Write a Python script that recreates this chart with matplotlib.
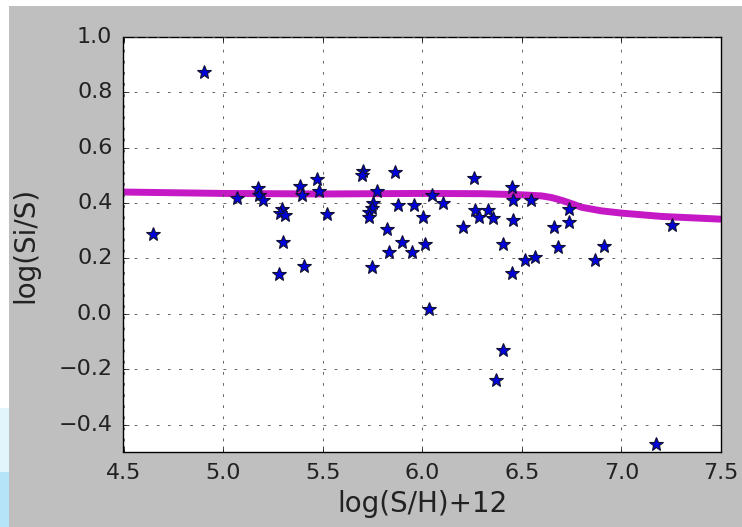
import numpy as np
import matplotlib.pyplot as plt
from matplotlib.patches import Rectangle

# data
sh = [4.904, 4.648, 5.068, 5.174, 5.18, 5.202, 5.294, 5.286, 5.311, 5.299,
      5.282, 5.406, 5.386, 5.395, 5.473, 5.483, 5.523, 5.701, 5.696, 5.774,
      5.754, 5.746, 5.734, 5.734, 5.863, 5.880, 5.958, 5.821, 5.897, 5.833,
      5.947, 5.746, 6.005, 6.013, 6.047, 6.102, 6.206, 6.261, 6.265, 6.286,
      6.331, 6.353, 6.407, 6.449, 6.457, 6.457, 6.449, 6.544, 6.738, 6.738,
      6.663, 6.683, 6.516, 6.566, 6.867, 6.914, 7.252, 6.035, 6.404, 6.370,
      7.173]
sis = [0.874, 0.288, 0.420, 0.455, 0.430, 0.413, 0.377, 0.363, 0.357, 0.258,
       0.143, 0.173, 0.461, 0.429, 0.486, 0.445, 0.360, 0.517, 0.501, 0.445,
       0.399, 0.381, 0.369, 0.351, 0.513, 0.393, 0.393, 0.306, 0.260, 0.222,
       0.222, 0.168, 0.351, 0.254, 0.429, 0.401, 0.314, 0.489, 0.375, 0.351,
       0.375, 0.345, 0.252, 0.457, 0.411, 0.339, 0.148, 0.411, 0.378, 0.333,
       0.312, 0.240, 0.194, 0.204, 0.194, 0.246, 0.320, 0.016, -0.131, -0.240,
       -0.471]

# model curve
mod_x = [4.5, 5.0, 5.5, 6.0, 6.3, 6.5, 6.6, 6.65, 6.7, 6.75, 6.8, 6.9, 7.0, 7.2, 7.5]
mod_y = [0.440, 0.435, 0.433, 0.435, 0.434, 0.430, 0.426, 0.420, 0.410, 0.398,
         0.385, 0.372, 0.364, 0.352, 0.342]

plt.style.use('classic')
fig = plt.figure(figsize=(7.42, 5.27), dpi=100, facecolor='white')

# screenshot frame: grey figure area, white strips, bit of blue in the corner
fig.patches.append(Rectangle((9/742, 0), 1, (527-6)/527, transform=fig.transFigure,
                             facecolor='#bfbfbf', edgecolor='none', zorder=-10))
fig.patches.append(Rectangle((0, (527-472)/527), 9/742, (472-408)/527, transform=fig.transFigure,
                             facecolor='#e2f4fc', edgecolor='none', zorder=-10))
fig.patches.append(Rectangle((0, 0), 9/742, (527-472)/527, transform=fig.transFigure,
                             facecolor='#b5e3f8', edgecolor='none', zorder=-10))

ax = fig.add_axes([123.5/742, 1-452.3/527, (721-123.5)/742, (452.3-37)/527])
ax.plot(mod_x, mod_y, '-', color='m', lw=5, alpha=0.9, zorder=2)
ax.plot(sh, sis, '*', color='#0000d8', mec='#111133', mew=0.8, ms=10, zorder=3)

ax.set_xlim(4.5, 7.5)
ax.set_ylim(-0.5, 1.0)
ax.set_xticks(np.arange(4.5, 7.51, 0.5))
ax.set_yticks([-0.4, -0.2, 0.0, 0.2, 0.4, 0.6, 0.8, 1.0])
ax.grid(True, ls=(0, (2, 6)), lw=0.6, color='0.3')
ax.tick_params(labelsize=16, pad=8, colors='k', labelcolor='#222222')
ax.set_xlabel('log(S/H)+12', fontsize=20, color='#222222', labelpad=5)
ax.set_ylabel('log(Si/S)', fontsize=20, color='#222222', labelpad=14)

plt.savefig('out.png', dpi=100, facecolor=fig.get_facecolor())
